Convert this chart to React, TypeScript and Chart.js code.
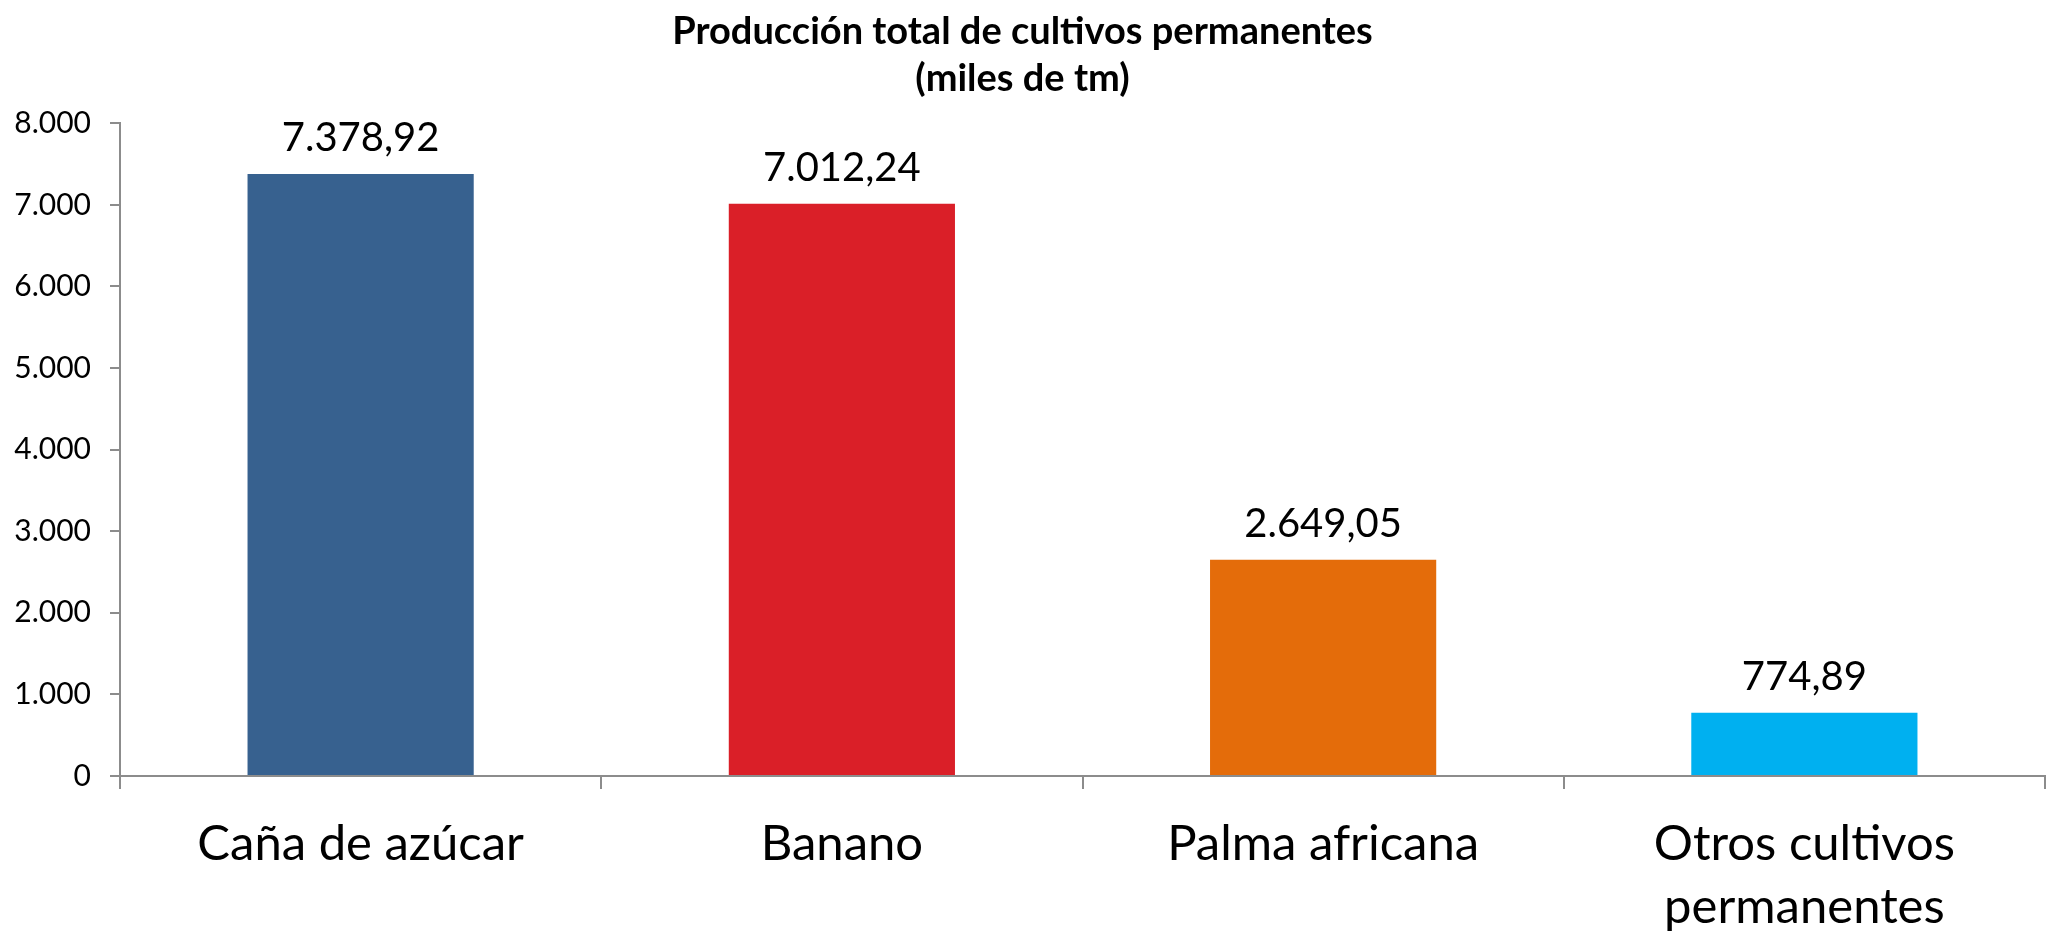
import React, { useEffect, useRef } from "react";
import { Chart, registerables } from "chart.js";

Chart.register(...registerables);

const categories: (string | string[])[] = [
  "Caña de azúcar",
  "Banano",
  "Palma africana",
  ["Otros cultivos", "permanentes"],
];
const values: number[] = [7378.92, 7012.24, 2649.05, 774.89];
const barColors: string[] = ["#37618F", "#DA1F28", "#E46C0A", "#00B0F0"];
const titleLines: string[] = ["Producción total de cultivos permanentes", "(miles de tm)"];
const yMin = 0;
const yMax = 8000;
const yStep = 1000;

const FONT = "Lato, 'Open Sans', sans-serif";
const AXIS_COLOR = "#8c8c8c";

function fmtNumber(v: number, decimals: number): string {
  const fixed = Math.abs(v).toFixed(decimals);
  const [intPart, decPart] = fixed.split(".");
  const grouped = intPart.replace(/\B(?=(\d{3})+(?!\d))/g, ".");
  return (v < 0 ? "-" : "") + grouped + (decPart ? "," + decPart : "");
}

const dataLabelPlugin = {
  id: "dataLabels",
  afterDatasetsDraw(chart: any) {
    const ctx = chart.ctx;
    const meta = chart.getDatasetMeta(0);
    ctx.save();
    ctx.font = `40px ${FONT}`;
    ctx.fillStyle = "#000";
    ctx.textAlign = "center";
    ctx.textBaseline = "middle";
    meta.data.forEach((bar: any, i: number) => {
      ctx.fillText(fmtNumber(values[i], 2), bar.x, bar.y - 36);
    });
    ctx.restore();
  },
};

export default function App() {
  const canvasRef = useRef<HTMLCanvasElement | null>(null);

  useEffect(() => {
    const canvas = canvasRef.current;
    if (!canvas) return;
    const chart = new Chart(canvas, {
      type: "bar",
      data: {
        labels: categories,
        datasets: [
          {
            data: values,
            backgroundColor: barColors,
            borderWidth: 0,
            barPercentage: 0.47,
            categoryPercentage: 1,
          },
        ],
      },
      options: {
        responsive: false,
        animation: false,
        layout: { padding: { left: 0, right: 3, top: 0, bottom: 0 } },
        plugins: {
          legend: { display: false },
          tooltip: { enabled: false },
          title: {
            display: true,
            text: titleLines,
            color: "#000",
            font: { family: FONT, size: 38, weight: "bold", lineHeight: 1.24 },
            padding: { top: 8, bottom: 21 },
          },
        },
        scales: {
          x: {
            afterFit: (scale: any) => {
              scale.height = 157;
            },
            grid: {
              display: true,
              offset: true,
              drawOnChartArea: false,
              drawTicks: true,
              tickLength: 13,
              color: AXIS_COLOR,
              lineWidth: 2,
            },
            border: { display: true, color: AXIS_COLOR, width: 2 },
            ticks: {
              color: "#000",
              font: { family: FONT, size: 49, lineHeight: 1.28 },
              padding: 24,
              maxRotation: 0,
              minRotation: 0,
              autoSkip: false,
            },
          },
          y: {
            min: yMin,
            max: yMax,
            afterFit: (scale: any) => {
              scale.width = 120;
            },
            grid: {
              display: true,
              drawOnChartArea: false,
              drawTicks: true,
              tickLength: 10,
              color: AXIS_COLOR,
              lineWidth: 2,
            },
            border: { display: true, color: AXIS_COLOR, width: 2 },
            ticks: {
              stepSize: yStep,
              color: "#000",
              font: { family: FONT, size: 30 },
              padding: 19,
              callback: (v: any) => fmtNumber(Number(v), 0),
            },
          },
        },
      },
      plugins: [dataLabelPlugin],
    });
    return () => chart.destroy();
  }, []);

  return (
    <div
      style={{
        position: "fixed",
        left: 0,
        top: 0,
        width: 2048,
        height: 933,
        background: "#fff",
      }}
    >
      <canvas ref={canvasRef} width={2048} height={933} style={{ display: "block" }} />
    </div>
  );
}
